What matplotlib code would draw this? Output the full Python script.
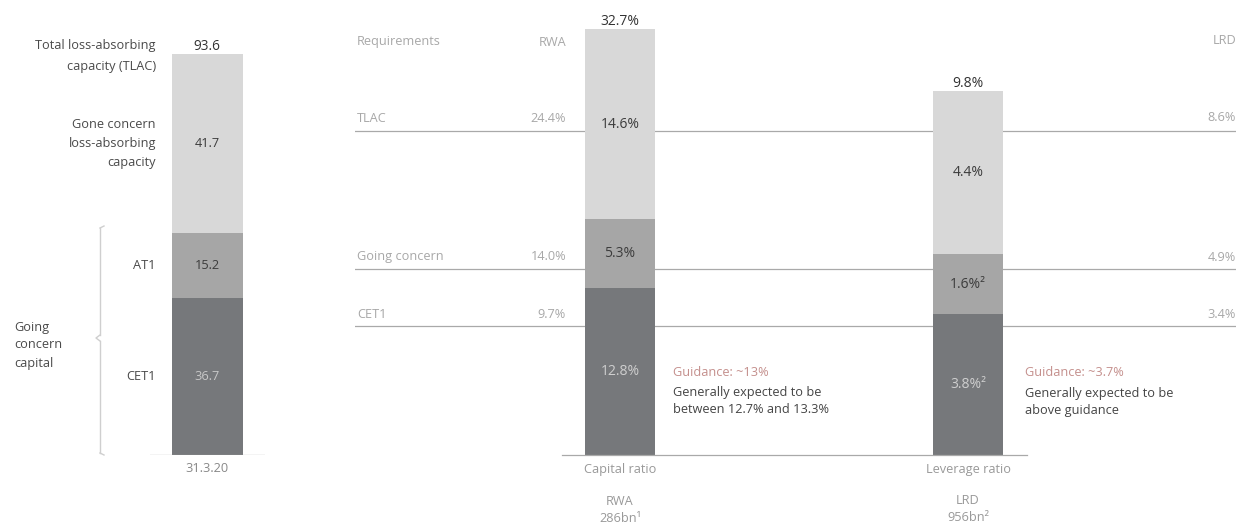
import matplotlib
matplotlib.use("Agg")
import matplotlib.pyplot as plt
from matplotlib.transforms import blended_transform_factory

plt.rcParams['font.family'] = ['Open Sans', 'DejaVu Sans']

# ---------------- data ----------------
tlac_labels = ["CET1", "AT1", "Gone concern\nloss-absorbing\ncapacity"]
tlac_values = [36.7, 15.2, 41.7]          # USD bn, 31.3.20
tlac_total = 93.6
tlac_date = "31.3.20"

ratio_segments = ["CET1", "AT1", "Gone concern"]
capital_ratio = [12.8, 5.3, 14.6]         # % of RWA
capital_total = 32.7
leverage_ratio = [3.8, 1.6, 4.4]          # % of LRD
leverage_total = 9.8
capital_seg_labels = ["12.8%", "5.3%", "14.6%"]
leverage_seg_labels = ["3.8%²", "1.6%²", "4.4%"]

req_names = ["TLAC", "Going concern", "CET1"]
req_rwa = [24.4, 14.0, 9.7]
req_lrd = [8.6, 4.9, 3.4]

# ---------------- styling ----------------
W, H = 1247, 530
C_LIGHT, C_MID, C_DARK = "#d8d8d8", "#a6a6a6", "#76787b"
seg_colors = [C_DARK, C_MID, C_LIGHT]
TXT = "#4a4a4a"
TXT_LIGHT = "#a8a8a8"
LINE = "#a9a9a9"
GUIDE = "#c48f8c"
FS = 9.2

fig = plt.figure(figsize=(W / 100, H / 100), dpi=100)
fig.patch.set_facecolor("white")

def px_axes(x0, y_top, x1, y_bot, z=1):
    ax = fig.add_axes([x0 / W, 1 - y_bot / H, (x1 - x0) / W, (y_bot - y_top) / H])
    ax.set_zorder(z)
    ax.patch.set_alpha(0)
    ax.axis("off")
    return ax

# overlay axes in pixel coordinates for annotations
ov = px_axes(0, 0, W, H, z=5)
ov.set_xlim(0, W)
ov.set_ylim(H, 0)

BASE = 455
TOP = 29

# ---------------- left panel ----------------
axL = px_axes(150, TOP, 265, BASE, z=2)
barw = 71
axL.set_xlim(-(207 - 150) / barw, (265 - 207) / barw)
axL.set_ylim(0, tlac_total * (BASE - TOP) / (BASE - 54))
bottom = 0
for v, c, lab in zip(tlac_values, seg_colors, tlac_labels):
    axL.bar(0, v, width=1, bottom=bottom, color=c, linewidth=0)
    tc = "#c8c8c8" if c == C_DARK else "#3c3c3c"
    axL.text(0, bottom + v / 2, f"{v:.1f}", ha="center", va="center",
             fontsize=FS, color=tc)
    axL.text(-0.72, bottom + v / 2, lab, ha="right", va="center",
             fontsize=FS, color=TXT, linespacing=1.6)
    bottom += v
axL.text(0, tlac_total, f"{tlac_total:.1f}", ha="center", va="bottom",
         fontsize=FS + 0.6, color="#333333")
axL.text(-0.72, tlac_total * 0.995, "Total loss-absorbing\ncapacity (TLAC)", ha="right",
         va="center", fontsize=FS, color=TXT, linespacing=1.75)
axL.axhline(0, color=LINE, lw=0.9)
axL.text(0, -1.6, tlac_date, ha="center", va="top", fontsize=FS, color="#888888")

# brace for going concern capital
ov.plot([100, 100], [228, 335], color="#cfcfcf", lw=1.0)
ov.plot([100, 100], [341, 453], color="#cfcfcf", lw=1.0)
ov.plot([100, 96, 100], [335, 338, 341], color="#cfcfcf", lw=1.0)
ov.plot([100, 104], [228, 226], color="#cfcfcf", lw=1.0)
ov.plot([100, 104], [453, 455], color="#cfcfcf", lw=1.0)
ov.text(14, 345, "Going\nconcern\ncapital", ha="left", va="center",
        fontsize=FS, color=TXT, linespacing=1.5)

# ---------------- requirement lines ----------------
axR = px_axes(355, TOP, 1236, BASE, z=1)
axR.set_xlim(0, 1)
axR.set_ylim(0, (BASE - TOP) / 13.29)
axL2 = px_axes(355, TOP, 1236, BASE, z=1)
axL2.set_xlim(0, 1)
axL2.set_ylim(0, (BASE - TOP) / 37.9)
trR = blended_transform_factory(ov.transData, axR.transData)
trL = blended_transform_factory(ov.transData, axL2.transData)
for name, r, l in zip(req_names, req_rwa, req_lrd):
    axR.axhline(r, color=LINE, lw=0.9)
    axR.annotate(name, xy=(357, r), xycoords=trR, xytext=(0, 4),
                 textcoords="offset points", ha="left", va="bottom",
                 fontsize=FS, color=TXT_LIGHT)
    axR.annotate(f"{r:.1f}%", xy=(566, r), xycoords=trR, xytext=(0, 4),
                 textcoords="offset points", ha="right", va="bottom",
                 fontsize=FS, color=TXT_LIGHT)
    axL2.annotate(f"{l:.1f}%", xy=(1236, l), xycoords=trL, xytext=(0, 4),
                  textcoords="offset points", ha="right", va="bottom",
                  fontsize=FS, color=TXT_LIGHT)
ov.text(357, 42, "Requirements", ha="left", va="center", fontsize=FS, color=TXT_LIGHT)
ov.text(566, 42, "RWA", ha="right", va="center", fontsize=FS, color=TXT_LIGHT)
ov.text(1236, 40, "LRD", ha="right", va="center", fontsize=FS, color=TXT_LIGHT)

# ---------------- capital ratio bar ----------------
axC = px_axes(562, TOP, 700, BASE, z=3)
bw = 70
axC.set_xlim(-(620 - 562) / bw, (700 - 620) / bw)
axC.set_ylim(0, capital_total)
bottom = 0
for v, c, lab in zip(capital_ratio, seg_colors, capital_seg_labels):
    axC.bar(0, v, width=1, bottom=bottom, color=c, linewidth=0)
    tc = "#cfcfcf" if c == C_DARK else "#3c3c3c"
    axC.text(0, bottom + v / 2, lab, ha="center", va="center",
             fontsize=FS + 0.8, color=tc)
    bottom += v
axC.text(0, capital_total, f"{capital_total:.1f}%", ha="center", va="bottom",
         fontsize=FS + 0.8, color="#333333")

# ---------------- leverage ratio bar ----------------
axV = px_axes(880, TOP, 1027, BASE, z=3)
axV.set_xlim(-(968 - 880) / bw, (1027 - 968) / bw)
axV.set_ylim(0, leverage_total * (BASE - TOP) / (BASE - 91))
bottom = 0
for v, c, lab in zip(leverage_ratio, seg_colors, leverage_seg_labels):
    axV.bar(0, v, width=1, bottom=bottom, color=c, linewidth=0)
    tc = "#cfcfcf" if c == C_DARK else "#3c3c3c"
    axV.text(0, bottom + v / 2, lab, ha="center", va="center",
             fontsize=FS + 0.8, color=tc)
    bottom += v
axV.text(0, leverage_total, f"{leverage_total:.1f}%", ha="center", va="bottom",
         fontsize=FS + 0.8, color="#333333")

# baseline
ov.plot([562, 1027], [BASE, BASE], color=LINE, lw=0.9, zorder=4)

# guidance texts
ov.text(673, 372, "Guidance: ~13%", ha="left", va="center", fontsize=FS, color=GUIDE)
ov.text(673, 401, "Generally expected to be\nbetween 12.7% and 13.3%", ha="left",
        va="center", fontsize=FS, color="#444444", linespacing=1.35)
ov.text(1025, 372, "Guidance: ~3.7%", ha="left", va="center", fontsize=FS, color=GUIDE)
ov.text(1025, 402, "Generally expected to be\nabove guidance", ha="left",
        va="center", fontsize=FS, color="#444444", linespacing=1.35)

# bottom labels
ov.text(620, 470, "Capital ratio", ha="center", va="center", fontsize=FS, color="#999999")
ov.text(620, 510, "RWA\n286bn¹", ha="center", va="center", fontsize=FS,
        color="#999999", linespacing=1.4)
ov.text(968, 470, "Leverage ratio", ha="center", va="center", fontsize=FS, color="#999999")
ov.text(968, 509, "LRD\n956bn²", ha="center", va="center", fontsize=FS,
        color="#999999", linespacing=1.4)

fig.savefig("out.png", dpi=100, facecolor="white")
